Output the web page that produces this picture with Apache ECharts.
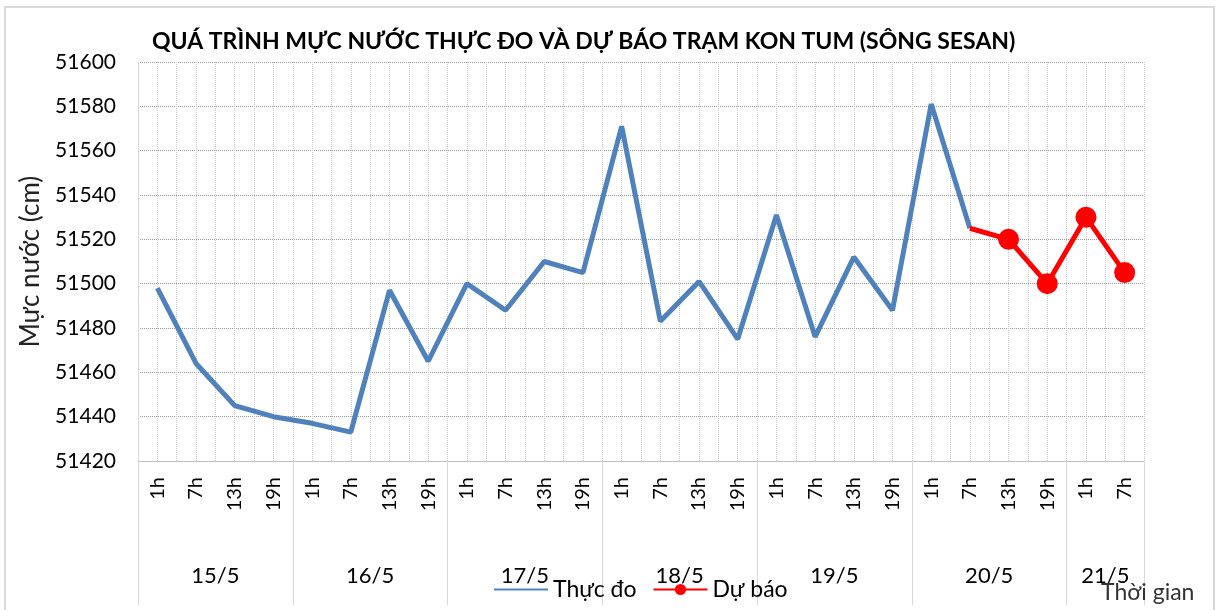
<!DOCTYPE html>
<html>
<head>
<meta charset="utf-8">
<script src="https://cdn.jsdelivr.net/npm/echarts@6/dist/echarts.min.js"></script>
<style>
  html, body { margin: 0; padding: 0; background: #fff; }
  #chart { position: absolute; left: 0; top: 0; width: 1219px; height: 610px; }
  #frame { position: absolute; left: 4px; top: 6px; width: 1207px; height: 610px;
           border: 2px solid #d9d9d9; pointer-events: none; }
</style>
</head>
<body>
<div id="chart"></div>
<div id="frame"></div>
<script>
const hours = ["1h", "7h", "13h", "19h"];
const days = ["15/5", "16/5", "17/5", "18/5", "19/5", "20/5", "21/5"];
const hoursPerDay = [4, 4, 4, 4, 4, 4, 2];

// muc nuoc thuc do (cm)
const actual = [
  51498, 51464, 51445, 51440,
  51437, 51433, 51497, 51465,
  51500, 51488, 51510, 51505,
  51571, 51483, 51501, 51475,
  51531, 51476, 51512, 51488,
  51581, 51525,
];
// du bao, bat dau tu 20/5 7h
const forecastStart = 21;
const forecast = [51525, 51520, 51500, 51530, 51505];

const yTicks = { min: 51420, max: 51600, step: 20 };

// categories + day group centers
const categories = [];
const dayCenters = [];
let pos = 0;
hoursPerDay.forEach((n) => {
  for (let i = 0; i < n; i++) categories.push(hours[i]);
  dayCenters.push(pos + n / 2);
  pos += n;
});

const actualData = categories.map((c, i) => (i < actual.length ? actual[i] : null));
const forecastData = categories.map((c, i) => {
  const k = i - forecastStart;
  if (k < 0 || k >= forecast.length) return null;
  return k === 0 ? { value: forecast[k], symbol: "none" } : forecast[k];
});

const font = "Lato";
const Chart = echarts.init(document.getElementById("chart"));
Chart.setOption({
  animation: false,
  textStyle: { fontFamily: font },
  title: [
    {
      text: "QUÁ TRÌNH MỰC NƯỚC THỰC ĐO VÀ DỰ BÁO TRẠM KON TUM (SÔNG SESAN)",
      left: 147,
      top: 25,
      textStyle: { fontFamily: font, fontSize: 23, fontWeight: "bold", color: "#000" },
    },
    {
      text: "Thời gian",
      left: 1096,
      top: 576,
      textStyle: { fontFamily: font, fontSize: 23, fontWeight: "normal", color: "#333" },
    },
  ],
  legend: {
    left: 493,
    top: 578,
    padding: 0,
    itemWidth: 54,
    itemHeight: 14,
    itemGap: 16,
    textStyle: { fontFamily: font, fontSize: 23, color: "#000" },
    data: [
      { name: "Thực đo", itemStyle: { opacity: 0 } },
      { name: "Dự báo" },
    ],
  },
  grid: { left: 138, right: 75, top: 62, bottom: 149 },
  xAxis: [
    {
      type: "category",
      data: categories,
      boundaryGap: true,
      axisLine: { show: true, lineStyle: { color: "#bfbfbf", width: 1 } },
      axisTick: {
        show: true,
        length: 144,
        interval: (i) => i % 4 === 0,
        lineStyle: { color: "#d9d9d9", width: 1 },
      },
      axisLabel: {
        interval: 0,
        rotate: 90,
        margin: 16,
        fontSize: 20,
        color: "#000",
      },
      splitLine: { show: false },
    },
    {
      // chi dung cho luoi doc va nhan ngay
      type: "value",
      position: "bottom",
      min: 0,
      max: categories.length,
      interval: 0.5,
      axisLine: { show: false },
      axisTick: { show: false },
      splitLine: { show: true, lineStyle: { color: "#c8c8c8", type: "dotted", width: 1 } },
      axisLabel: {
        margin: 104,
        fontSize: 22,
        color: "#000",
        showMinLabel: true,
        showMaxLabel: true,
        formatter: (v) => {
          const k = dayCenters.findIndex((c) => Math.abs(c - v) < 1e-6);
          return k < 0 ? "" : days[k];
        },
      },
    },
  ],
  yAxis: {
    type: "value",
    min: yTicks.min,
    max: yTicks.max,
    interval: yTicks.step,
    name: "Mực nước (cm)",
    nameLocation: "middle",
    nameGap: 94,
    nameTextStyle: { fontFamily: font, fontSize: 26, color: "#222" },
    axisLine: { show: true, lineStyle: { color: "#d9d9d9", width: 1 } },
    axisTick: { show: false },
    axisLabel: { margin: 22, fontSize: 21, color: "#000", formatter: (v) => String(v) },
    splitLine: { show: true, lineStyle: { color: "#9a9a9a", type: "dotted", width: 1 } },
  },
  series: [
    {
      name: "Thực đo",
      type: "line",
      data: actualData,
      symbol: "none",
      color: "#4F81BD",
      lineStyle: { width: 5, color: "#4F81BD" },
      z: 2,
    },
    {
      name: "Dự báo",
      type: "line",
      data: forecastData,
      symbol: "circle",
      symbolSize: 21,
      showAllSymbol: true,
      color: "#FF0000",
      itemStyle: { color: "#FF0000" },
      lineStyle: { width: 5, color: "#FF0000" },
      z: 3,
    },
  ],
});
</script>
</body>
</html>
